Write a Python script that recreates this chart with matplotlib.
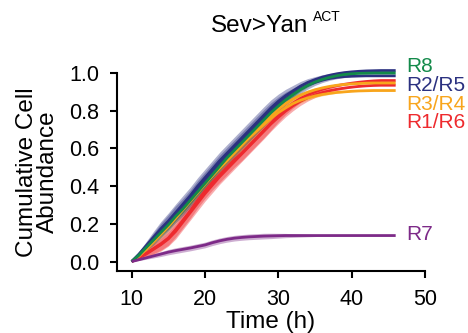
import matplotlib
matplotlib.use("Agg")
import matplotlib.pyplot as plt
import numpy as np

plt.rcParams['font.family'] = ['Liberation Sans', 'DejaVu Sans']

time_h = list(range(10, 47))

r2 = [0, 0.04, 0.085, 0.13, 0.175, 0.215, 0.26, 0.305, 0.35, 0.40, 0.445, 0.49, 0.535, 0.575, 0.615, 0.655,
      0.695, 0.735, 0.775, 0.815, 0.85, 0.88, 0.905, 0.93, 0.95, 0.965, 0.978, 0.988, 0.996, 1.002, 1.006,
      1.009, 1.011, 1.012, 1.013, 1.013, 1.013]
r5 = [0, 0.035, 0.08, 0.12, 0.165, 0.205, 0.25, 0.29, 0.335, 0.385, 0.43, 0.475, 0.52, 0.56, 0.60, 0.64,
      0.68, 0.72, 0.76, 0.80, 0.835, 0.865, 0.89, 0.915, 0.935, 0.95, 0.962, 0.971, 0.977, 0.981, 0.983,
      0.984, 0.985, 0.985, 0.985, 0.985, 0.985]
r8 = [0, 0.035, 0.075, 0.115, 0.155, 0.195, 0.24, 0.28, 0.325, 0.37, 0.415, 0.46, 0.505, 0.55, 0.59, 0.63,
      0.67, 0.71, 0.75, 0.79, 0.825, 0.858, 0.886, 0.912, 0.934, 0.952, 0.966, 0.977, 0.986, 0.992, 0.996,
      0.998, 0.999, 1.0, 1.0, 1.0, 1.0]
r3 = [0, 0.03, 0.065, 0.105, 0.145, 0.185, 0.23, 0.275, 0.32, 0.365, 0.41, 0.455, 0.50, 0.54, 0.58, 0.62,
      0.66, 0.70, 0.74, 0.775, 0.808, 0.838, 0.862, 0.882, 0.898, 0.911, 0.921, 0.929, 0.935, 0.939, 0.942,
      0.944, 0.946, 0.947, 0.947, 0.947, 0.947]
r4 = [0, 0.03, 0.07, 0.11, 0.15, 0.19, 0.235, 0.28, 0.325, 0.37, 0.415, 0.455, 0.495, 0.535, 0.575, 0.615,
      0.655, 0.69, 0.725, 0.76, 0.79, 0.815, 0.838, 0.855, 0.868, 0.878, 0.886, 0.892, 0.897, 0.90, 0.903,
      0.905, 0.906, 0.907, 0.907, 0.907, 0.907]
r1 = [0, 0.02, 0.045, 0.07, 0.095, 0.125, 0.17, 0.22, 0.27, 0.325, 0.375, 0.42, 0.46, 0.50, 0.54, 0.575,
      0.615, 0.655, 0.695, 0.735, 0.775, 0.81, 0.84, 0.865, 0.885, 0.90, 0.913, 0.924, 0.933, 0.94, 0.946,
      0.951, 0.955, 0.958, 0.96, 0.96, 0.96]
r6 = [0, 0.02, 0.04, 0.065, 0.09, 0.12, 0.16, 0.21, 0.26, 0.31, 0.36, 0.405, 0.45, 0.49, 0.53, 0.57,
      0.61, 0.65, 0.69, 0.73, 0.765, 0.798, 0.826, 0.85, 0.869, 0.884, 0.896, 0.906, 0.914, 0.92, 0.925,
      0.929, 0.932, 0.934, 0.935, 0.935, 0.935]
r7 = [0, 0.01, 0.02, 0.03, 0.04, 0.05, 0.058, 0.065, 0.072, 0.08, 0.088, 0.10, 0.11, 0.118, 0.124, 0.128,
      0.131, 0.133, 0.135, 0.136, 0.137, 0.138, 0.138, 0.138, 0.138, 0.138, 0.138, 0.138, 0.138, 0.138,
      0.138, 0.138, 0.138, 0.138, 0.138, 0.138, 0.138]

# relative spread (SEM) over time, shared shape
sem_profile = [0, 0.3, 0.5, 0.7, 0.85, 0.95, 1, 1, 1, 1, 1, 1, 1, 1, 1, 1, 1, 1, 1, 0.95, 0.85,
               0.75, 0.65, 0.55, 0.45, 0.35, 0.28, 0.22, 0.16, 0.12, 0.08, 0.05, 0.03, 0.02, 0.01, 0, 0]

green = '#138a4a'
blue = '#2b3180'
orange = '#f8a51c'
red = '#ee2a2e'
purple = '#7d2a88'

series = [
    ('R1', r1, red, 0.04),
    ('R6', r6, red, 0.04),
    ('R4', r4, orange, 0.025),
    ('R3', r3, orange, 0.025),
    ('R5', r5, blue, 0.045),
    ('R2', r2, blue, 0.045),
    ('R8', r8, green, 0.02),
    ('R7', r7, purple, 0.015),
]

label_names = ['R8', 'R2/R5', 'R3/R4', 'R1/R6', 'R7']
label_colors = [green, blue, orange, red, purple]
label_y = [1.035, 0.935, 0.835, 0.735, 0.142]

fig = plt.figure(figsize=(4.68, 3.33), dpi=100)
ax = fig.add_axes([117 / 468, 1 - 271 / 333, (425 - 117) / 468, (271 - 73) / 333])

t = np.array(time_h)
prof = np.array(sem_profile)
for name, y, c, s in series:
    y = np.array(y)
    ax.fill_between(t, y - s * prof, y + s * prof, color=c, alpha=0.38, lw=0, clip_on=False)
for name, y, c, s in series:
    ax.plot(t, y, color=c, lw=2.0, clip_on=False, solid_capstyle='butt')

ax.set_xlim(8, 50)
ax.set_ylim(-0.05, 1.0)
ax.set_xticks([10, 20, 30, 40, 50])
ax.set_yticks([0.0, 0.2, 0.4, 0.6, 0.8, 1.0])
ax.set_yticklabels(['0.0', '0.2', '0.4', '0.6', '0.8', '1.0'])
for sp in ['top', 'right']:
    ax.spines[sp].set_visible(False)
for sp in ['left', 'bottom']:
    ax.spines[sp].set_linewidth(1.5)
ax.tick_params(axis='both', width=1.5, length=5, labelsize=15.5, color='black')
ax.tick_params(axis='y', pad=8)
ax.tick_params(axis='x', pad=8)

ax.set_xlabel('Time (h)', fontsize=17.5, labelpad=1)
ax.set_ylabel('Cumulative Cell\nAbundance', fontsize=17.5, labelpad=7, linespacing=0.95)

for n, c, yy in zip(label_names, label_colors, label_y):
    ax.text(47.4, yy, n, color=c, fontsize=15, ha='left', va='center', clip_on=False)

fig.text(308 / 468, 1 - 32 / 333, 'Sev>Yan', fontsize=17.5, ha='right', va='baseline')
fig.text(313 / 468, 1 - 21 / 333, 'ACT', fontsize=10, ha='left', va='baseline')

fig.savefig('out.png', dpi=100)
